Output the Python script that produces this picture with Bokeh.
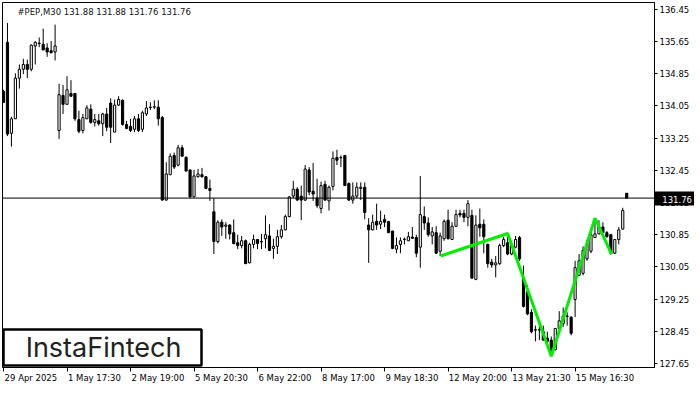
from bokeh.plotting import figure
from bokeh.models import (FixedTicker, PrintfTickFormatter, Span, Label, BoxAnnotation,
                          ColumnDataSource)
from bokeh.embed import file_html
from bokeh.resources import INLINE

# ---- data (PEP, M30) ----
open_ = [134.41,135.63,133.37,133.73,134.74,134.96,135.08,134.96,135.54,135.61,135.58,135.49,135.42,135.39,
         133.44,134.31,134.09,134.36,134.36,133.71,133.44,133.73,133.97,133.64,133.68,133.61,133.85,
         134.12,133.40,134.07,134.19,133.59,133.54,133.47,133.73,133.47,133.85,134.02,134.02,134.02,
         133.76,131.71,132.34,132.82,132.58,133.01,132.77,132.46,131.79,132.29,132.34,132.29,132.00,
         131.42,130.68,131.16,131.06,131.09,130.90,130.65,130.58,130.70,130.15,130.61,130.73,130.68,
         130.75,130.82,130.51,130.56,130.80,130.97,131.30,131.81,131.98,131.81,131.71,132.46,131.93,
         131.76,131.50,132.10,131.69,132.05,132.77,132.77,132.82,132.12,131.71,131.81,132.00,132.03,
         131.09,130.97,131.18,131.11,131.23,131.18,130.94,130.49,130.61,130.73,130.70,130.79,130.78,
         130.54,131.30,131.14,130.82,130.90,130.44,130.75,131.21,130.73,131.06,131.38,131.38,131.28,
         131.33,129.74,131.11,131.11,130.61,130.17,130.10,130.13,130.58,130.65,130.37,130.54,130.78,
         129.77,129.43,128.92,128.49,128.49,128.44,128.28,128.23,127.99,128.52,128.64,128.83,128.80,
         129.24,129.84,129.89,130.25,130.44,130.78,130.87,131.04,130.90,130.85,130.39,130.73,130.99,
         131.88]
high = [134.45,136.11,133.78,134.86,135.08,135.22,135.20,135.58,135.66,135.75,135.97,135.61,135.66,136.07,
        134.60,134.57,134.79,134.69,134.36,133.93,133.85,134.07,134.09,133.85,133.85,133.88,134.00,
        134.24,134.21,134.29,134.21,133.68,133.73,133.80,133.85,133.93,134.17,134.14,134.19,134.19,
        133.80,132.65,132.87,132.89,133.08,133.08,132.80,132.46,132.46,132.48,132.51,132.31,132.22,
        131.76,131.21,131.23,131.16,131.11,131.23,130.85,130.82,130.73,130.65,130.85,130.74,130.87,
        131.33,131.11,130.75,130.97,131.09,131.35,131.81,132.19,132.03,132.07,132.58,132.53,132.63,
        132.24,132.17,132.19,132.07,132.92,132.96,132.82,132.82,132.15,132.15,132.15,132.15,132.15,
        131.26,131.35,131.62,131.45,131.35,131.19,130.95,130.78,130.78,130.78,130.92,131.04,130.85,
        132.31,131.55,131.28,131.04,131.06,130.90,131.23,131.47,131.16,131.47,131.47,131.47,131.71,
        131.47,131.33,131.50,131.23,130.63,130.25,130.32,130.63,130.80,130.80,130.63,130.82,130.82,
        130.08,129.60,129.00,128.59,128.61,128.59,128.44,128.32,128.32,128.95,129.04,128.92,128.83,
        130.20,130.37,130.56,130.73,130.97,131.21,131.21,131.16,130.94,130.87,130.73,131.04,131.52,
        131.88]
low = [134.12,133.30,133.04,133.73,134.48,134.84,134.74,134.91,135.08,135.51,135.44,135.27,135.37,135.18,
       133.23,133.85,134.09,134.29,133.68,133.37,133.37,133.73,133.61,133.54,133.56,133.30,133.42,
       133.13,133.40,134.05,133.56,133.47,133.40,133.40,133.40,133.40,133.80,133.95,133.97,133.56,
       131.70,131.70,132.34,132.48,132.55,132.80,132.43,131.76,131.78,132.27,132.27,131.98,131.69,
       130.37,130.63,130.82,130.75,130.73,130.61,130.49,130.51,130.13,130.14,130.51,130.49,130.49,
       130.51,130.44,130.25,130.37,130.75,130.96,131.28,131.76,131.69,131.21,131.69,131.83,131.69,
       131.52,131.38,131.69,131.45,131.95,132.58,132.53,132.07,131.69,131.62,131.76,131.71,131.23,
       130.15,130.96,130.97,130.99,131.04,130.90,130.49,130.39,130.39,130.61,130.69,130.75,130.29,
       130.03,130.97,130.80,130.61,130.37,130.32,130.70,130.73,130.72,131.04,131.28,131.16,131.06,
       129.77,129.72,130.80,130.39,130.03,130.03,129.79,130.10,130.54,130.34,130.34,130.51,130.20,
       129.04,128.85,128.40,128.20,128.23,128.23,128.15,127.84,127.98,128.51,128.56,128.59,128.35,
       128.80,129.83,129.84,130.20,130.39,130.77,130.86,130.90,130.78,130.37,130.37,130.61,130.98,
       131.76]
close = [134.14,133.35,133.73,134.74,134.96,135.08,134.96,135.56,135.63,135.60,135.44,135.39,135.37,135.54,
         134.33,134.09,134.45,134.29,133.73,133.42,133.76,134.00,133.64,133.71,133.61,133.85,133.52,
         133.52,134.07,134.21,133.59,133.49,133.44,133.73,133.44,133.88,134.00,134.01,134.03,133.73,
         131.71,132.36,132.80,132.53,133.01,132.80,132.43,131.79,132.31,132.36,132.29,132.00,131.95,
         130.68,131.16,131.04,131.09,130.87,130.63,130.58,130.70,130.13,130.61,130.73,130.63,130.67,
         130.85,130.46,130.56,130.80,130.97,131.30,131.79,131.98,131.71,131.71,132.48,131.91,131.86,
         131.57,132.07,131.71,132.03,132.75,132.70,132.76,132.07,131.71,131.81,132.03,132.03,131.40,
         130.97,131.16,131.09,131.18,131.16,130.90,130.51,130.58,130.70,130.74,130.80,130.76,130.39,
         131.35,131.14,130.85,130.92,130.39,130.82,131.18,130.75,131.06,131.35,131.34,131.28,131.62,
         129.77,131.09,131.02,130.80,130.13,130.10,130.15,130.58,130.73,130.37,130.58,130.73,130.25,
         129.07,128.88,128.44,128.48,128.48,128.23,128.20,127.91,128.52,128.71,128.83,128.82,128.40,
         130.03,130.20,130.46,130.63,130.85,130.87,131.04,130.90,130.80,130.39,130.73,130.97,131.45,
         131.76]

# inverse head & shoulders pattern (bar index, price)
pattern_bar = [110.1, 127.0, 138.0, 149.0, 153.2]
pattern_price = [130.32, 130.88, 127.83, 131.26, 130.36]

last_price = 131.76
title_text = "#PEP,M30  131.88 131.88 131.76 131.76"

x_tick_bars = [0, 16, 32, 48, 64, 80, 96, 112, 128, 144]
x_tick_labels = ["29 Apr 2025", "1 May 17:30", "2 May 19:00", "5 May 20:30", "6 May 22:00",
                 "8 May 17:00", "9 May 18:30", "12 May 20:00", "13 May 21:30", "15 May 16:30"]
y_ticks = [127.65, 128.45, 129.25, 130.05, 130.85, 131.65, 132.45, 133.25, 134.05, 134.85, 135.65, 136.45]

# ---- build ----
n = len(open_)
bars = list(range(n))
up = [c >= o for o, c in zip(open_, close)]
src = ColumnDataSource(dict(
    x=bars, high=high, low=low,
    top=[max(o, c) for o, c in zip(open_, close)],
    bottom=[min(o, c) for o, c in zip(open_, close)],
    fill=["white" if u else "black" for u in up],
))

FW, FH = 652, 365
FONT = "DejaVu Sans"
X0, X1 = -0.25, 164.0
Y0, Y1 = 127.55, 136.62
px_per_bar = FW / (X1 - X0)
TAG_LEN = 45

p = figure(frame_width=FW, frame_height=FH, output_backend="svg", toolbar_location=None,
           x_range=(X0, X1), y_range=(Y0, Y1), y_axis_location="right",
           min_border_left=2, min_border_top=2, min_border_right=0, min_border_bottom=0,
           background_fill_color="white", border_fill_color="white")
p.outline_line_color = "black"
p.outline_line_width = 1
p.xgrid.visible = False
p.ygrid.visible = False

p.segment(x0="x", y0="high", x1="x", y1="low", source=src, line_color="black", line_width=1)
p.vbar(x="x", width=0.55, top="top", bottom="bottom", source=src,
       fill_color="fill", line_color="black", line_width=1)

p.add_layout(Span(location=last_price, dimension="width", line_color="black", line_width=1))

p.line(pattern_bar, pattern_price, line_color="#00ee00", line_width=3)

# x axis: tick marks at the bars (minor ticks), labels start just right of each mark
label_centers = [b + (1 + len(t) * 4.8 / 2) / px_per_bar for b, t in zip(x_tick_bars, x_tick_labels)]
xa = p.xaxis[0]
xa.ticker = FixedTicker(ticks=label_centers, minor_ticks=x_tick_bars)
xa.major_label_overrides = {c: t for c, t in zip(label_centers, x_tick_labels)}
xa.major_label_text_font = FONT
xa.major_label_text_font_size = "8.5px"
xa.major_label_text_color = "black"
xa.major_tick_in = 0
xa.major_tick_out = 0
xa.major_tick_line_color = None
xa.minor_tick_in = 0
xa.minor_tick_out = 4
xa.minor_tick_line_color = "black"
xa.major_label_standoff = 1
xa.axis_line_color = "black"

# y axis on the right, with the current-price tag (minor tick drawn as a black bar)
ya = p.yaxis[0]
ya.ticker = FixedTicker(ticks=y_ticks, minor_ticks=[last_price])
ya.formatter = PrintfTickFormatter(format="%.2f")
ya.major_label_text_font = FONT
ya.major_label_text_font_size = "8.5px"
ya.major_label_text_color = "black"
ya.major_tick_in = 0
ya.major_tick_out = 3
ya.major_label_standoff = 5 - TAG_LEN
ya.axis_line_color = "black"
ya.minor_tick_in = 0
ya.minor_tick_out = TAG_LEN
ya.minor_tick_line_width = 14
ya.minor_tick_line_color = "black"

# axis title used as the tag text: it sits at the panel's vertical centre, so push it
# down to the tag with blank leading lines
shift_px = (last_price - (Y0 + Y1) / 2) / (Y1 - Y0) * FH * -1
ya.axis_label = "\n\n131.76"
ya.axis_label_orientation = "horizontal"
ya.axis_label_text_color = "white"
ya.axis_label_text_font = FONT
ya.axis_label_text_font_style = "normal"
ya.axis_label_text_font_size = "8.5px"
ya.axis_label_text_line_height = shift_px / 8.5
ya.axis_label_standoff = -30

# title
p.add_layout(Label(x=15, y=FH - 9, x_units="screen", y_units="screen", text=title_text,
                   text_color="#111111", text_font=FONT, text_font_size="8.5px",
                   text_baseline="middle", text_align="left"))

# logo
p.add_layout(BoxAnnotation(left=1, right=199, bottom=2, top=38,
                           left_units="screen", right_units="screen",
                           bottom_units="screen", top_units="screen",
                           fill_color="white", fill_alpha=1.0,
                           line_color="black", line_width=2.5, line_alpha=1.0))
p.add_layout(Label(x=101, y=20, x_units="screen", y_units="screen", text="InstaFintech",
                   text_color="#222222", text_font="Inter", text_font_size="27px",
                   text_baseline="middle", text_align="center"))

open("out.html", "w").write(file_html(p, INLINE))
